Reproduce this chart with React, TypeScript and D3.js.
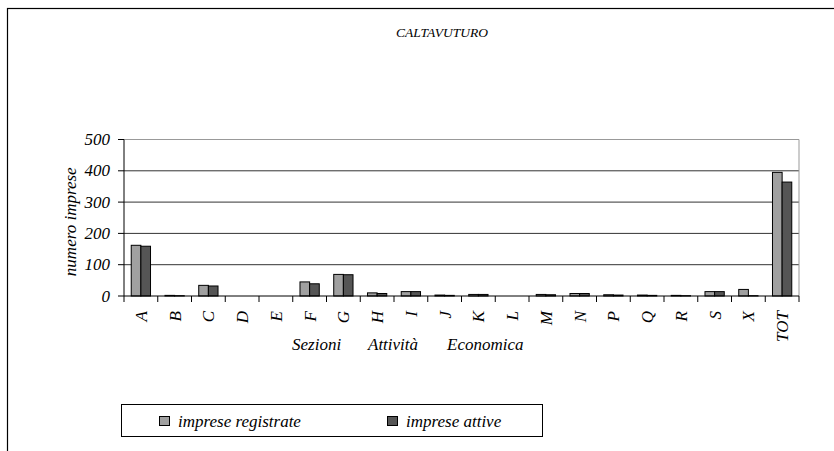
import React from "react";
import * as d3 from "d3";

const categories = ["A","B","C","D","E","F","G","H","I","J","K","L","M","N","P","Q","R","S","X","TOT"];
const registrate = [162, 2, 34, 0, 0, 45, 69, 10, 14, 3, 5, 0, 5, 8, 4, 3, 2, 14, 21, 395];
const attive =     [159, 1, 32, 0, 0, 39, 68, 8, 14, 2, 5, 0, 4, 8, 3, 2, 1, 14, 1, 364];
const yTicks = [0, 100, 200, 300, 400, 500];
const seriesNames = ["imprese registrate", "imprese attive"];
const seriesColors = ["#a0a0a0", "#555555"];
const xTitleWords = ["Sezioni", "Attività", "Economica"];

const W = 834, H = 451;
const plot = { left: 124, right: 799, top: 139.5, bottom: 296 };
const FAM = "Times New Roman";

export default function App() {
  const x = d3.scaleBand().domain(categories).range([plot.left, plot.right]).paddingInner(0).paddingOuter(0);
  const y = d3.scaleLinear().domain([0, 500]).range([plot.bottom, plot.top]);
  const bw = x.bandwidth() / 3.5;
  const off = bw * 0.75;
  const series = [registrate, attive];
  const wordX = [292, 368, 447];

  return (
    <svg width={W} height={H} style={{ position: "absolute", left: 0, top: 0 }}>
      <rect x={7.5} y={8.5} width={W + 20} height={H + 20} fill="none" stroke="#000" strokeWidth={1.2} />
      <text x={442} y={37} textAnchor="middle" fontSize={13.5} style={{ fontFamily: FAM, fontStyle: "italic" }}>CALTAVUTURO</text>

      {yTicks.filter(t => t > 0 && t < 500).map(t => (
        <line key={t} x1={plot.left} x2={plot.right} y1={y(t)} y2={y(t)} stroke="#333" strokeWidth={1} />
      ))}
      <line x1={plot.left} x2={plot.right} y1={y(500)} y2={y(500)} stroke="#999" strokeWidth={1} />
      <line x1={plot.right} x2={plot.right} y1={y(500)} y2={plot.bottom} stroke="#999" strokeWidth={1} />

      {series.map((vals, si) =>
        categories.map((c, i) => vals[i] > 0 ? (
          <rect key={c + si}
            x={(x(c) as number) + off + si * bw}
            y={y(vals[i])}
            width={bw}
            height={plot.bottom - y(vals[i])}
            fill={seriesColors[si]} stroke="#000" strokeWidth={1} />
        ) : null)
      )}

      <line x1={plot.left} x2={plot.left} y1={plot.top} y2={plot.bottom} stroke="#000" strokeWidth={1} />
      {yTicks.map(t => (
        <g key={t}>
          <line x1={plot.left - 6} x2={plot.left} y1={y(t)} y2={y(t)} stroke="#000" />
          <text x={plot.left - 14} y={y(t) + 5.5} textAnchor="end" fontSize={17} style={{ fontFamily: FAM, fontStyle: "italic" }}>{t}</text>
        </g>
      ))}
      <text transform={`translate(76,${(plot.top + plot.bottom) / 2 + 4}) rotate(-90)`} textAnchor="middle" fontSize={17} style={{ fontFamily: FAM, fontStyle: "italic" }}>numero imprese</text>

      <line x1={plot.left} x2={plot.right} y1={plot.bottom} y2={plot.bottom} stroke="#000" strokeWidth={1} />
      {categories.map(c => (
        <line key={"t" + c} x1={(x(c) as number)} x2={(x(c) as number)} y1={plot.bottom} y2={plot.bottom + 6} stroke="#000" />
      ))}
      <line x1={plot.right} x2={plot.right} y1={plot.bottom} y2={plot.bottom + 6} stroke="#000" />
      {categories.map(c => (
        <text key={"l" + c}
          transform={`translate(${(x(c) as number) + x.bandwidth() / 2 + 6},${plot.bottom + 15}) rotate(-90)`}
          textAnchor="end" fontSize={17} style={{ fontFamily: FAM, fontStyle: "italic" }}>{c}</text>
      ))}
      {xTitleWords.map((w, i) => (
        <text key={w} x={wordX[i]} y={350} fontSize={17} style={{ fontFamily: FAM, fontStyle: "italic" }}>{w}</text>
      ))}

      <rect x={121.5} y={404.5} width={421} height={32} fill="#fff" stroke="#000" strokeWidth={1} />
      {seriesNames.map((n, i) => {
        const lx = i === 0 ? 159 : 387;
        return (
          <g key={n}>
            <rect x={lx + 0.5} y={416.5} width={10} height={9} fill={seriesColors[i]} stroke="#000" />
            <text x={lx + 19} y={427} fontSize={17} style={{ fontFamily: FAM, fontStyle: "italic" }}>{n}</text>
          </g>
        );
      })}
    </svg>
  );
}
